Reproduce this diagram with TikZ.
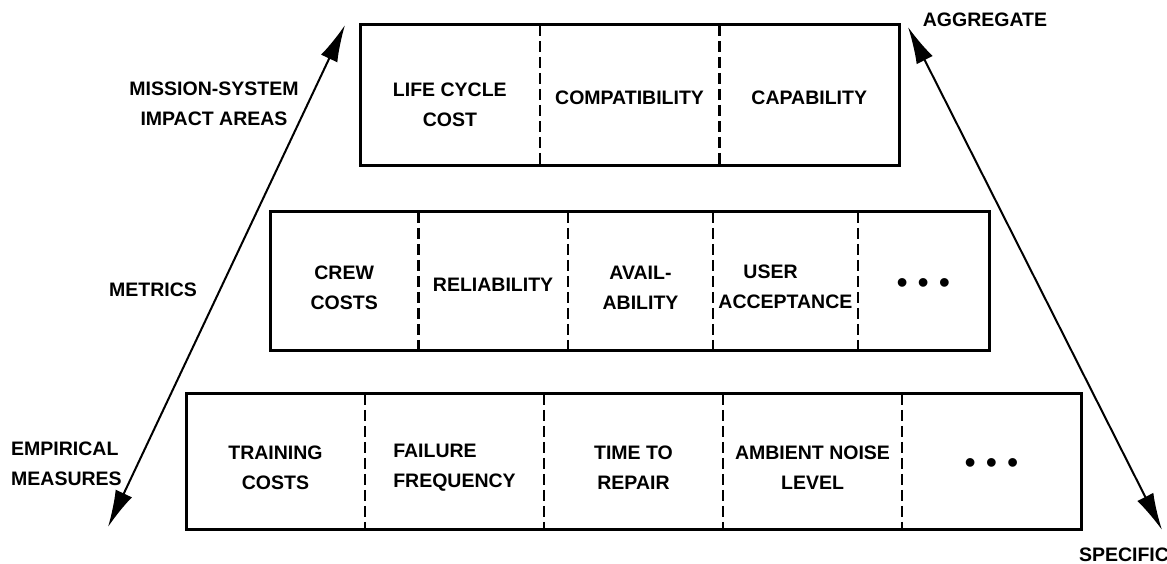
\documentclass[tikz,border=0pt]{standalone}
\usepackage{fontspec}
\setmainfont{Liberation Sans}
\usetikzlibrary{arrows.meta,positioning}

\begin{document}
\begin{tikzpicture}[x=1pt, y=-1pt,
        txt/.style={font=\fontsize{19.5}{30}\selectfont\bfseries, align=center, inner sep=0pt},
        dots/.style={font=\fontsize{32}{30}\selectfont, inner sep=0pt},
        toprow/.style={minimum width=179.3pt, minimum height=140pt, inner sep=0pt},
        midrow/.style={minimum height=138pt, inner sep=0pt},
        botrow/.style={minimum width=178.6pt, minimum height=135pt, inner sep=0pt},
        frame/.style={line width=3pt},
        divider/.style={line width=2.2pt, dash pattern=on 11pt off 5pt},
        scalearrow/.style={line width=2pt, {Latex[length=37pt,width=18pt]}-{Latex[length=37pt,width=18pt]}}]

        \useasboundingbox (0,0) rectangle (1167,564);

        % === Livello 1: impact areas ===
        \node[toprow, anchor=west] (t1) at (360,95) {};
        \node[toprow, right=0pt of t1] (t2) {};
        \node[toprow, right=0pt of t2] (t3) {};

        \node[txt, yshift=-10pt] (t1txt) at (t1) {LIFE CYCLE\\COST};
        \node[txt, yshift=-3pt] (t2txt) at (t2) {COMPATIBILITY};
        \node[txt, yshift=-3pt] (t3txt) at (t3) {CAPABILITY};

        \draw[frame] (t1.north west) rectangle (t3.south east);
        \foreach \c in {t1,t2}
            \draw[divider] (\c.north east) -- (\c.south east);

        % === Livello 2: metrics ===
        \node[midrow, minimum width=148pt, anchor=west] (m1) at (270,281) {};
        \node[midrow, minimum width=149pt, right=0pt of m1] (m2) {};
        \node[midrow, minimum width=145pt, right=0pt of m2] (m3) {};
        \node[midrow, minimum width=144pt, right=0pt of m3] (m4) {};
        \node[midrow, minimum width=131pt, right=0pt of m4] (m5) {};

        \node[txt, yshift=-7pt] (m1txt) at (m1) {CREW\\COSTS};
        \node[txt, yshift=-4pt] (m2txt) at (m2) {RELIABILITY};
        \node[txt, yshift=-7pt] (m3txt) at (m3) {AVAIL-\\ABILITY};
        \node[txt, align=left, yshift=-6pt] (m4txt) at (m4) {\hspace*{25pt}USER\\ACCEPTANCE};
        \node[dots, yshift=-5pt] (m5txt) at (m5) {•\hspace{10pt}•\hspace{10pt}•};

        \draw[frame] (m1.north west) rectangle (m5.south east);
        \foreach \c in {m1,m2,m3,m4}
            \draw[divider] (\c.north east) -- (\c.south east);

        % === Livello 3: empirical measures ===
        \node[botrow, anchor=west] (b1) at (186,461.5) {};
        \node[botrow, right=0pt of b1] (b2) {};
        \node[botrow, right=0pt of b2] (b3) {};
        \node[botrow, right=0pt of b3] (b4) {};
        \node[botrow, right=0pt of b4] (b5) {};

        \node[txt, yshift=-6pt] (b1txt) at (b1) {TRAINING\\COSTS};
        \node[txt, align=left, yshift=-6pt] (b2txt) at (b2) {FAILURE\\FREQUENCY};
        \node[txt, yshift=-6pt] (b3txt) at (b3) {TIME TO\\REPAIR};
        \node[txt, yshift=-6pt] (b4txt) at (b4) {AMBIENT NOISE\\LEVEL};
        \node[dots, yshift=-5pt] (b5txt) at (b5) {•\hspace{10pt}•\hspace{10pt}•};

        \draw[frame] (b1.north west) rectangle (b5.south east);
        \foreach \c in {b1,b2,b3,b4}
            \draw[divider] (\c.north east) -- (\c.south east);

        % Frecce
        \coordinate (lefttop) at (345,25);
        \coordinate (leftbot) at (108,527);
        \coordinate (righttop) at (908,27);
        \coordinate (rightbot) at (1162,530);
        \draw[scalearrow] (lefttop) -- (leftbot);
        \draw[scalearrow] (righttop) -- (rightbot);

        % Etichette
        \node[txt] (mission) at (214,104) {MISSION-SYSTEM\\IMPACT AREAS};
        \node[txt] (metrics) at (153,290) {METRICS};
        \node[txt, anchor=west, align=left] (empirical) at (11,464) {EMPIRICAL\\MEASURES};
        \node[txt] (aggregate) at (985,20) {AGGREGATE};
        \node[txt] (specific) at (1124,555) {SPECIFIC};

    \end{tikzpicture}
\end{document}
